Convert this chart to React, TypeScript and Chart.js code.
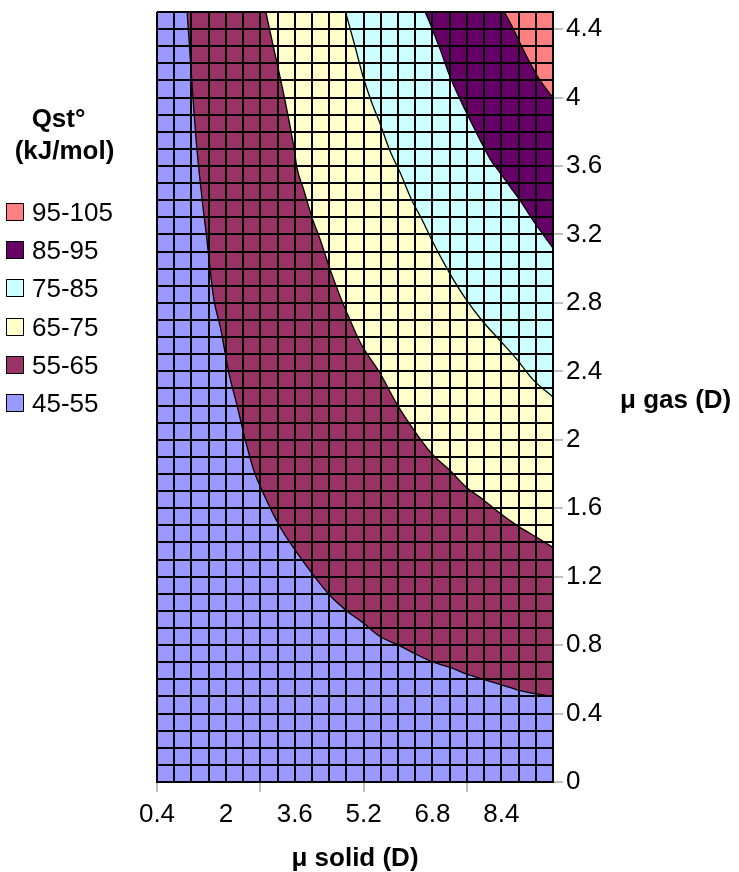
import React, { useEffect, useRef } from 'react';
import { Chart, registerables } from 'chart.js';

Chart.register(...registerables);

const FONT = '"Liberation Sans", Arial, Helvetica, sans-serif';

// Legend
const legendTitle = ['Qst°', '(kJ/mol)'];
const bandLabels = ['95-105', '85-95', '75-85', '65-75', '55-65', '45-55'];
const bandColors = ['#FF8080', '#660066', '#CCFFFF', '#FFFFCC', '#993366', '#9999FF'];

// Axes
const xTitle = 'μ solid (D)';
const yTitle = 'μ gas (D)';
const xMin = 0.4;
const xMax = 9.6;
const xStep = 0.4; // one grid column
const yMin = 0;
const yMax = 4.5;
const yStep = 0.1; // one grid row
const xTickLabels = ['0.4', '2', '3.6', '5.2', '6.8', '8.4'];
const yTickLabels = ['0', '0.4', '0.8', '1.2', '1.6', '2', '2.4', '2.8', '3.2', '3.6', '4', '4.4'];

// Contour boundaries: x = μ solid, y = μ gas
const b55x = [1.10, 1.31, 1.45, 1.56, 1.64, 1.72, 1.87, 2.07, 2.26, 2.45, 2.65, 2.83, 3.26, 3.65, 4.03, 4.42, 4.81, 5.19, 5.58, 6.01, 6.39, 6.82, 7.21, 7.60, 7.98, 8.37, 8.91, 9.6];
const b55y = [4.5, 3.75, 3.40, 3.17, 2.98, 2.82, 2.66, 2.39, 2.20, 2.00, 1.82, 1.71, 1.49, 1.34, 1.21, 1.09, 1.00, 0.93, 0.85, 0.80, 0.75, 0.70, 0.67, 0.63, 0.60, 0.57, 0.53, 0.50];

const b65x = [2.93, 3.58, 3.65, 3.81, 4.00, 4.19, 4.43, 4.62, 4.85, 5.12, 5.58, 5.97, 6.36, 6.78, 7.21, 7.60, 7.98, 8.37, 8.76, 9.22, 9.6];
const b65y = [4.5, 3.71, 3.59, 3.46, 3.30, 3.17, 2.99, 2.86, 2.72, 2.57, 2.39, 2.21, 2.06, 1.92, 1.82, 1.72, 1.65, 1.57, 1.50, 1.43, 1.37];

const b75x = [4.78, 5.00, 5.19, 5.39, 5.58, 5.81, 6.05, 6.32, 6.55, 6.82, 7.03, 7.30, 7.58, 7.94, 8.37, 8.76, 9.14, 9.6];
const b75y = [4.5, 4.30, 4.12, 3.97, 3.85, 3.69, 3.56, 3.40, 3.29, 3.15, 3.05, 2.93, 2.82, 2.70, 2.58, 2.47, 2.35, 2.25];

const b85x = [6.63, 6.78, 6.98, 7.21, 7.44, 7.67, 7.91, 8.14, 8.37, 8.60, 8.83, 9.14, 9.6];
const b85y = [4.5, 4.41, 4.28, 4.12, 3.99, 3.87, 3.75, 3.64, 3.56, 3.48, 3.40, 3.28, 3.12];

const b95x = [8.47, 8.68, 8.87, 9.07, 9.30, 9.6];
const b95y = [4.5, 4.40, 4.30, 4.20, 4.10, 4.00];

const baseX = [xMin, xMax];
const baseY = [yMin, yMin];

const toPts = (xs: number[], ys: number[]) => xs.map((x, i) => ({ x, y: ys[i] }));

const labelFor = (v: number, labels: string[]) => {
  const hit = labels.find((l) => Math.abs(parseFloat(l) - v) < 1e-6);
  return hit === undefined ? '' : hit;
};

export default function App() {
  const ref = useRef<HTMLCanvasElement>(null);

  useEffect(() => {
    const canvas = ref.current;
    if (!canvas) return;

    const boundary = (xs: number[], ys: number[], color: string, order: number, border = true) => ({
      data: toPts(xs, ys),
      fill: 'end',
      backgroundColor: color,
      borderColor: border ? '#000' : 'rgba(0,0,0,0)',
      borderWidth: border ? 1.3 : 0,
      pointRadius: 0,
      cubicInterpolationMode: 'monotone',
      order,
    });

    const chart = new Chart(canvas, {
      type: 'line',
      data: {
        datasets: [
          boundary(baseX, baseY, bandColors[5], 6, false),
          boundary(b55x, b55y, bandColors[4], 5),
          boundary(b65x, b65y, bandColors[3], 4),
          boundary(b75x, b75y, bandColors[2], 3),
          boundary(b85x, b85y, bandColors[1], 2),
          boundary(b95x, b95y, bandColors[0], 1),
        ] as any,
      },
      options: {
        animation: false,
        responsive: false,
        devicePixelRatio: 1,
        layout: { padding: { left: 157, top: 12, right: 0, bottom: 0 } },
        plugins: {
          legend: { display: false },
          tooltip: { enabled: false },
          filler: { propagate: false },
        },
        scales: {
          x: {
            type: 'linear',
            min: xMin,
            max: xMax,
            afterBuildTicks: (scale: any) => {
              const n = Math.round((xMax - xMin) / xStep);
              const t = [];
              for (let i = 0; i <= n; i++) t.push({ value: Math.round((xMin + i * xStep) * 1000) / 1000 });
              scale.ticks = t;
            },
            afterFit: (scale: any) => {
              scale.height = 90;
              scale.paddingLeft = 0;
              scale.paddingRight = 0;
            },
            ticks: {
              z: 1,
              autoSkip: false,
              maxRotation: 0,
              minRotation: 0,
              padding: 7,
              color: '#000',
              font: { family: FONT, size: 26 },
              callback: (v: any) => labelFor(Number(v), xTickLabels),
            },
            grid: {
              z: 1,
              color: '#000',
              lineWidth: 2,
              drawTicks: true,
              tickLength: 10,
              tickWidth: 1,
              tickColor: (ctx: any) => (ctx.index % 6 === 0 ? '#808080' : 'rgba(0,0,0,0)'),
            },
            border: { z: 1, display: true, color: '#000', width: 2 },
            title: {
              display: true,
              text: xTitle,
              color: '#000',
              font: { family: FONT, size: 26, weight: 'bold', lineHeight: 1 },
              padding: { top: 0, bottom: 0 },
            },
          },
          y: {
            type: 'linear',
            position: 'right',
            min: yMin,
            max: yMax,
            afterBuildTicks: (scale: any) => {
              const n = Math.round((yMax - yMin) / yStep);
              const t = [];
              for (let i = 0; i <= n; i++) t.push({ value: Math.round((yMin + i * yStep) * 1000) / 1000 });
              scale.ticks = t;
            },
            afterFit: (scale: any) => {
              scale.width = 186;
              scale.paddingTop = 0;
              scale.paddingBottom = 0;
            },
            ticks: {
              z: 1,
              autoSkip: false,
              padding: 3,
              color: '#000',
              font: { family: FONT, size: 26 },
              callback: (v: any) => labelFor(Number(v), yTickLabels),
            },
            grid: {
              z: 1,
              color: '#000',
              lineWidth: 2,
              drawTicks: true,
              tickLength: 10,
              tickWidth: 1,
              tickColor: (ctx: any) => (ctx.index % 4 === 0 ? '#808080' : 'rgba(0,0,0,0)'),
            },
            border: { z: 1, display: true, color: '#000', width: 2 },
            title: { display: false },
          },
        },
      } as any,
    });

    return () => chart.destroy();
  }, []);

  const legendRowsY = [212, 250, 288, 327, 365, 403];

  return (
    <div
      style={{
        position: 'fixed',
        left: 0,
        top: 0,
        width: 739,
        height: 872,
        background: '#fff',
        fontFamily: FONT,
        color: '#000',
        overflow: 'hidden',
      }}
    >
      <canvas
        ref={ref}
        width={739}
        height={872}
        style={{ position: 'absolute', left: 0, top: 0, width: 739, height: 872 }}
      />
      <div
        style={{
          position: 'absolute',
          left: 58.5,
          top: 103,
          transform: 'translateX(-50%)',
          fontSize: 26,
          fontWeight: 'bold',
          lineHeight: '30px',
          whiteSpace: 'nowrap',
        }}
      >
        {legendTitle[0]}
      </div>
      <div
        style={{
          position: 'absolute',
          left: 64.5,
          top: 135,
          transform: 'translateX(-50%)',
          fontSize: 26,
          fontWeight: 'bold',
          lineHeight: '30px',
          whiteSpace: 'nowrap',
        }}
      >
        {legendTitle[1]}
      </div>
      {bandLabels.map((lab, i) => (
        <React.Fragment key={lab}>
          <div
            style={{
              position: 'absolute',
              left: 6,
              top: legendRowsY[i] - 9,
              width: 18,
              height: 18,
              boxSizing: 'border-box',
              border: '1px solid #000',
              background: bandColors[i],
            }}
          />
          <div
            style={{
              position: 'absolute',
              left: 32,
              top: legendRowsY[i] - 15,
              fontSize: 26,
              lineHeight: '30px',
              whiteSpace: 'nowrap',
            }}
          >
            {lab}
          </div>
        </React.Fragment>
      ))}
      <div
        style={{
          position: 'absolute',
          left: 620,
          top: 399 - 15,
          fontSize: 26,
          fontWeight: 'bold',
          lineHeight: '30px',
          whiteSpace: 'nowrap',
        }}
      >
        {yTitle}
      </div>
    </div>
  );
}
